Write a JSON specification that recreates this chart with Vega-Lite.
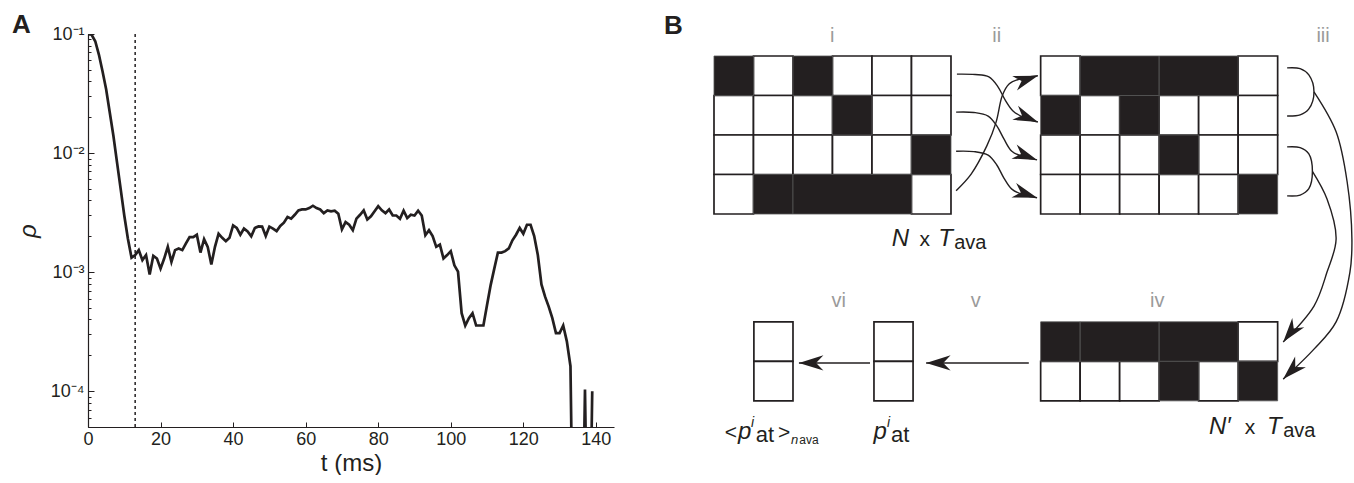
{
  "$schema": "https://vega.github.io/schema/vega-lite/v6.json",
  "background": "white",
  "padding": {"left": 12, "top": 12, "right": 0, "bottom": 0},
  "spacing": 46,
  "config": {
    "view": {"stroke": null},
    "font": "Liberation Sans",
    "axis": {"grid": false, "domainColor": "#231f20", "tickColor": "#231f20", "labelColor": "#231f20", "titleColor": "#231f20", "labelFont": "Liberation Sans", "titleFont": "Liberation Sans", "titleFontWeight": "normal"}
  },
  "datasets": {
    "rho": [
      {"t":0,"p":0.1},{"t":1,"p":0.0985},{"t":2,"p":0.0869},{"t":3,"p":0.0672},{"t":4,"p":0.0487},{"t":5,"p":0.0343},{"t":6,"p":0.0219},{"t":7,"p":0.01396},{"t":8,"p":0.00836},{"t":9,"p":0.005},
      {"t":10,"p":0.00299},{"t":11,"p":0.00191},{"t":12,"p":0.00132},{"t":13,"p":0.00139},{"t":14,"p":0.00153},{"t":15,"p":0.00126},{"t":16,"p":0.00139},{"t":17,"p":0.000957},{"t":18,"p":0.00137},{"t":19,"p":0.0013},
      {"t":20,"p":0.00107},{"t":21,"p":0.0013},{"t":22,"p":0.00163},{"t":23,"p":0.00122},{"t":24,"p":0.00153},{"t":25,"p":0.00158},{"t":26,"p":0.00153},{"t":27,"p":0.00174},{"t":28,"p":0.00197},{"t":29,"p":0.00197},
      {"t":30,"p":0.00206},{"t":31,"p":0.00146},{"t":32,"p":0.00189},{"t":33,"p":0.00163},{"t":34,"p":0.00116},{"t":35,"p":0.00163},{"t":36,"p":0.0021},{"t":37,"p":0.00194},{"t":38,"p":0.00182},{"t":39,"p":0.00194},
      {"t":40,"p":0.00247},{"t":41,"p":0.00235},{"t":42,"p":0.00206},{"t":43,"p":0.00232},{"t":44,"p":0.0022},{"t":45,"p":0.002},{"t":46,"p":0.00235},{"t":47,"p":0.00242},{"t":48,"p":0.00241},{"t":49,"p":0.00201},
      {"t":50,"p":0.00241},{"t":51,"p":0.00232},{"t":52,"p":0.00221},{"t":53,"p":0.00244},{"t":54,"p":0.0026},{"t":55,"p":0.0029},{"t":56,"p":0.00281},{"t":57,"p":0.00303},{"t":58,"p":0.0033},{"t":59,"p":0.00336},
      {"t":60,"p":0.00336},{"t":61,"p":0.00345},{"t":62,"p":0.00361},{"t":63,"p":0.00345},{"t":64,"p":0.00336},{"t":65,"p":0.00313},{"t":66,"p":0.0033},{"t":67,"p":0.00324},{"t":68,"p":0.00328},{"t":69,"p":0.00309},
      {"t":70,"p":0.00229},{"t":71,"p":0.00263},{"t":72,"p":0.0025},{"t":73,"p":0.00225},{"t":74,"p":0.00281},{"t":75,"p":0.00303},{"t":76,"p":0.0033},{"t":77,"p":0.00277},{"t":78,"p":0.00294},{"t":79,"p":0.00324},
      {"t":80,"p":0.00358},{"t":81,"p":0.0033},{"t":82,"p":0.00313},{"t":83,"p":0.00336},{"t":84,"p":0.00299},{"t":85,"p":0.00299},{"t":86,"p":0.00281},{"t":87,"p":0.00328},{"t":88,"p":0.00284},{"t":89,"p":0.00303},
      {"t":90,"p":0.00299},{"t":91,"p":0.00328},{"t":92,"p":0.00299},{"t":93,"p":0.00204},{"t":94,"p":0.00225},{"t":95,"p":0.00201},{"t":96,"p":0.00163},{"t":97,"p":0.0017},{"t":98,"p":0.0013},{"t":99,"p":0.00139},
      {"t":100,"p":0.0015},{"t":101,"p":0.00114},{"t":102,"p":0.00101},{"t":103,"p":0.000452},{"t":104,"p":0.000356},{"t":105,"p":0.00041},{"t":106,"p":0.000452},{"t":107,"p":0.000356},{"t":108,"p":0.000356},{"t":109,"p":0.000356},
      {"t":110,"p":0.00053},{"t":111,"p":0.000778},{"t":112,"p":0.00107},{"t":113,"p":0.00146},{"t":114,"p":0.00146},{"t":115,"p":0.0015},{"t":116,"p":0.00158},{"t":117,"p":0.00185},{"t":118,"p":0.00206},{"t":119,"p":0.00235},
      {"t":120,"p":0.0021},{"t":121,"p":0.0025},{"t":122,"p":0.0025},{"t":123,"p":0.00201},{"t":124,"p":0.00139},{"t":125,"p":0.000789},{"t":126,"p":0.000622},{"t":127,"p":0.000513},{"t":128,"p":0.00041},{"t":129,"p":0.000307},
      {"t":130,"p":0.000307},{"t":131,"p":0.000356},{"t":132,"p":0.000262},{"t":133,"p":0.000162},{"t":134,"p":0.000001},{"t":135,"p":0.000001},{"t":136,"p":0.000001},{"t":137,"p":0.000103},{"t":138,"p":0.000001},{"t":139,"p":0.0001}
    ],
    "cells": [
      {"x":0,"x2":1,"y":0,"y2":1,"on":1},{"x":1,"x2":2,"y":0,"y2":1,"on":0},{"x":2,"x2":3,"y":0,"y2":1,"on":1},{"x":3,"x2":4,"y":0,"y2":1,"on":0},{"x":4,"x2":5,"y":0,"y2":1,"on":0},{"x":5,"x2":6,"y":0,"y2":1,"on":0},
      {"x":0,"x2":1,"y":1,"y2":2,"on":0},{"x":1,"x2":2,"y":1,"y2":2,"on":0},{"x":2,"x2":3,"y":1,"y2":2,"on":0},{"x":3,"x2":4,"y":1,"y2":2,"on":1},{"x":4,"x2":5,"y":1,"y2":2,"on":0},{"x":5,"x2":6,"y":1,"y2":2,"on":0},
      {"x":0,"x2":1,"y":2,"y2":3,"on":0},{"x":1,"x2":2,"y":2,"y2":3,"on":0},{"x":2,"x2":3,"y":2,"y2":3,"on":0},{"x":3,"x2":4,"y":2,"y2":3,"on":0},{"x":4,"x2":5,"y":2,"y2":3,"on":0},{"x":5,"x2":6,"y":2,"y2":3,"on":1},
      {"x":0,"x2":1,"y":3,"y2":4,"on":0},{"x":1,"x2":2,"y":3,"y2":4,"on":1},{"x":2,"x2":5,"y":3,"y2":4,"on":1},{"x":5,"x2":6,"y":3,"y2":4,"on":0},
      {"x":8.27,"x2":9.27,"y":0,"y2":1,"on":0},{"x":9.27,"x2":11.27,"y":0,"y2":1,"on":1},{"x":11.27,"x2":13.27,"y":0,"y2":1,"on":1},{"x":13.27,"x2":14.27,"y":0,"y2":1,"on":0},
      {"x":8.27,"x2":9.27,"y":1,"y2":2,"on":1},{"x":9.27,"x2":10.27,"y":1,"y2":2,"on":0},{"x":10.27,"x2":11.27,"y":1,"y2":2,"on":1},{"x":11.27,"x2":12.27,"y":1,"y2":2,"on":0},{"x":12.27,"x2":13.27,"y":1,"y2":2,"on":0},{"x":13.27,"x2":14.27,"y":1,"y2":2,"on":0},
      {"x":8.27,"x2":9.27,"y":2,"y2":3,"on":0},{"x":9.27,"x2":10.27,"y":2,"y2":3,"on":0},{"x":10.27,"x2":11.27,"y":2,"y2":3,"on":0},{"x":11.27,"x2":12.27,"y":2,"y2":3,"on":1},{"x":12.27,"x2":13.27,"y":2,"y2":3,"on":0},{"x":13.27,"x2":14.27,"y":2,"y2":3,"on":0},
      {"x":8.27,"x2":9.27,"y":3,"y2":4,"on":0},{"x":9.27,"x2":10.27,"y":3,"y2":4,"on":0},{"x":10.27,"x2":11.27,"y":3,"y2":4,"on":0},{"x":11.27,"x2":12.27,"y":3,"y2":4,"on":0},{"x":12.27,"x2":13.27,"y":3,"y2":4,"on":0},{"x":13.27,"x2":14.27,"y":3,"y2":4,"on":1},
      {"x":8.27,"x2":9.27,"y":6.73,"y2":7.73,"on":1},{"x":9.27,"x2":11.27,"y":6.73,"y2":7.73,"on":1},{"x":11.27,"x2":13.27,"y":6.73,"y2":7.73,"on":1},{"x":13.27,"x2":14.27,"y":6.73,"y2":7.73,"on":0},
      {"x":8.27,"x2":9.27,"y":7.73,"y2":8.73,"on":0},{"x":9.27,"x2":10.27,"y":7.73,"y2":8.73,"on":0},{"x":10.27,"x2":11.27,"y":7.73,"y2":8.73,"on":0},{"x":11.27,"x2":12.27,"y":7.73,"y2":8.73,"on":1},{"x":12.27,"x2":13.27,"y":7.73,"y2":8.73,"on":0},{"x":13.27,"x2":14.27,"y":7.73,"y2":8.73,"on":1},
      {"x":1.01,"x2":2.0,"y":6.73,"y2":7.73,"on":0},{"x":1.01,"x2":2.0,"y":7.73,"y2":8.73,"on":0},
      {"x":4.05,"x2":5.04,"y":6.73,"y2":7.73,"on":0},{"x":4.05,"x2":5.04,"y":7.73,"y2":8.73,"on":0}
    ],
    "curves": [
      {"id":"a1","seq":0,"x":6.15,"y":0.46},{"id":"a1","seq":1,"x":6.61,"y":0.47},{"id":"a1","seq":2,"x":6.96,"y":0.53},{"id":"a1","seq":3,"x":7.19,"y":0.78},{"id":"a1","seq":4,"x":7.37,"y":1.11},{"id":"a1","seq":5,"x":7.57,"y":1.39},{"id":"a1","seq":6,"x":7.87,"y":1.57},{"id":"a1","seq":7,"x":8.2,"y":1.67},
      {"id":"a2","seq":0,"x":6.13,"y":1.42},{"id":"a2","seq":1,"x":6.58,"y":1.43},{"id":"a2","seq":2,"x":6.94,"y":1.52},{"id":"a2","seq":3,"x":7.16,"y":1.77},{"id":"a2","seq":4,"x":7.34,"y":2.1},{"id":"a2","seq":5,"x":7.54,"y":2.41},{"id":"a2","seq":6,"x":7.85,"y":2.56},{"id":"a2","seq":7,"x":8.18,"y":2.63},
      {"id":"a3","seq":0,"x":6.13,"y":2.41},{"id":"a3","seq":1,"x":6.58,"y":2.42},{"id":"a3","seq":2,"x":6.94,"y":2.51},{"id":"a3","seq":3,"x":7.16,"y":2.76},{"id":"a3","seq":4,"x":7.34,"y":3.09},{"id":"a3","seq":5,"x":7.54,"y":3.37},{"id":"a3","seq":6,"x":7.85,"y":3.52},{"id":"a3","seq":7,"x":8.18,"y":3.59},
      {"id":"a4","seq":0,"x":6.13,"y":3.41},{"id":"a4","seq":1,"x":6.51,"y":2.99},{"id":"a4","seq":2,"x":6.91,"y":2.27},{"id":"a4","seq":3,"x":7.14,"y":1.68},{"id":"a4","seq":4,"x":7.3,"y":1.0},{"id":"a4","seq":5,"x":7.47,"y":0.71},{"id":"a4","seq":6,"x":7.75,"y":0.58},{"id":"a4","seq":7,"x":8.2,"y":0.5},
      {"id":"b1","seq":0,"x":14.51,"y":0.3},{"id":"b1","seq":1,"x":14.84,"y":0.32},{"id":"b1","seq":2,"x":15.06,"y":0.48},{"id":"b1","seq":3,"x":15.19,"y":0.91},{"id":"b1","seq":4,"x":15.06,"y":1.34},{"id":"b1","seq":5,"x":14.84,"y":1.49},{"id":"b1","seq":6,"x":14.51,"y":1.52},
      {"id":"b2","seq":0,"x":14.51,"y":2.3},{"id":"b2","seq":1,"x":14.84,"y":2.32},{"id":"b2","seq":2,"x":15.06,"y":2.48},{"id":"b2","seq":3,"x":15.15,"y":2.92},{"id":"b2","seq":4,"x":15.06,"y":3.36},{"id":"b2","seq":5,"x":14.84,"y":3.52},{"id":"b2","seq":6,"x":14.51,"y":3.54},
      {"id":"c1","seq":0,"x":15.19,"y":0.91},{"id":"c1","seq":1,"x":15.75,"y":1.92},{"id":"c1","seq":2,"x":16.03,"y":3.19},{"id":"c1","seq":3,"x":16.15,"y":4.63},{"id":"c1","seq":4,"x":16.1,"y":5.47},{"id":"c1","seq":5,"x":15.75,"y":6.73},{"id":"c1","seq":6,"x":15.19,"y":7.42},{"id":"c1","seq":7,"x":14.41,"y":8.18},
      {"id":"c2","seq":0,"x":15.15,"y":2.92},{"id":"c2","seq":1,"x":15.52,"y":3.62},{"id":"c2","seq":2,"x":15.75,"y":4.63},{"id":"c2","seq":3,"x":15.52,"y":5.47},{"id":"c2","seq":4,"x":15.19,"y":6.33},{"id":"c2","seq":5,"x":14.41,"y":7.24},
      {"id":"s1","seq":0,"x":7.97,"y":7.77},{"id":"s1","seq":1,"x":5.37,"y":7.77},
      {"id":"s2","seq":0,"x":3.95,"y":7.77},{"id":"s2","seq":1,"x":2.15,"y":7.77}
    ],
    "heads": [
      {"x":8.2,"y":1.67,"dir":22},{"x":8.18,"y":2.63,"dir":20},{"x":8.18,"y":3.59,"dir":18},{"x":8.2,"y":0.5,"dir":-18},
      {"x":14.41,"y":8.18,"dir":135},{"x":14.41,"y":7.24,"dir":128},{"x":5.37,"y":7.77,"dir":180},{"x":2.15,"y":7.77,"dir":180}
    ],
    "numerals": [
      {"x":2.99,"y":-0.35,"label":"i"},{"x":7.16,"y":-0.35,"label":"ii"},{"x":15.42,"y":-0.35,"label":"iii"},
      {"x":11.22,"y":6.35,"label":"iv"},{"x":6.63,"y":6.35,"label":"v"},{"x":3.16,"y":6.35,"label":"vi"}
    ],
    "italicBig": [
      {"x":4.5,"y":4.81,"label":"N"},{"x":5.68,"y":4.81,"label":"T"},
      {"x":12.53,"y":9.57,"label":"N′"},{"x":14.0,"y":9.57,"label":"T"},
      {"x":0.61,"y":9.7,"label":"p"},{"x":4.04,"y":9.7,"label":"p"}
    ],
    "plainText": [
      {"x":5.2,"y":4.81,"label":"x"},{"x":13.44,"y":9.57,"label":"x"},
      {"x":0.27,"y":9.7,"label":"<"},{"x":1.62,"y":9.7,"label":">"}
    ],
    "subText": [
      {"x":6.08,"y":4.89,"label":"ava"},{"x":14.41,"y":9.65,"label":"ava"}
    ],
    "atText": [
      {"x":1.06,"y":9.77,"label":"at"},{"x":4.48,"y":9.77,"label":"at"}
    ],
    "supText": [
      {"x":0.94,"y":9.39,"label":"i"},{"x":4.38,"y":9.39,"label":"i"}
    ],
    "tinyItalic": [{"x":1.95,"y":9.82,"label":"n"}],
    "tinyText": [{"x":2.16,"y":9.82,"label":"ava"}],
    "marker": [{"t":13}]
  },
  "hconcat": [
    {
      "width": 526,
      "height": 393,
      "title": {"text": "A", "anchor": "start", "frame": "group", "dx": -76, "dy": 34, "offset": 0, "baseline": "alphabetic", "fontSize": 26, "fontWeight": "bold", "font": "Liberation Sans", "color": "#231f20"},
      "resolve": {"axis": {"y": "independent"}},
      "layer": [
        {
          "data": {"name": "rho"},
          "mark": {"type": "line", "clip": true, "color": "#231f20", "strokeWidth": 2.7},
          "encoding": {
            "x": {"field": "t", "type": "quantitative", "scale": {"domain": [0, 145], "nice": false, "zero": false},
                  "axis": {"values": [0,20,40,60,80,100,120,140], "tickSize": -5, "labelPadding": 8, "labelFontSize": 18, "labelFlush": false, "title": "t (ms)", "titleFontSize": 24, "titlePadding": 3, "domainWidth": 1.2}},
            "y": {"field": "p", "type": "quantitative", "scale": {"type": "log", "domain": [0.00005, 0.1], "nice": false},
                  "axis": {"orient": "left", "values": [0.0001, 0.001, 0.01, 0.1], "labelExpr": "datum.value > 0.05 ? '10⁻¹' : datum.value > 0.005 ? '10⁻²' : datum.value > 0.0005 ? '10⁻³' : '10⁻⁴'", "tickSize": -6, "labelPadding": 10, "labelFontSize": 18, "title": "ρ", "titleFontStyle": "italic", "titleFontSize": 24, "titlePadding": 10, "domainWidth": 1.2}}
          }
        },
        {
          "data": {"name": "rho"},
          "mark": {"type": "point", "opacity": 0, "clip": true},
          "encoding": {
            "x": {"field": "t", "type": "quantitative"},
            "y": {"field": "p", "type": "quantitative",
                  "axis": {"orient": "left", "values": [0.00005,0.00006,0.00007,0.00008,0.00009,0.0002,0.0003,0.0004,0.0005,0.0006,0.0007,0.0008,0.0009,0.002,0.003,0.004,0.005,0.006,0.007,0.008,0.009,0.02,0.03,0.04,0.05,0.06,0.07,0.08,0.09], "labels": false, "domain": false, "tickSize": -3, "title": null}}
          }
        },
        {
          "data": {"name": "marker"},
          "mark": {"type": "rule", "strokeDash": [3, 3], "strokeWidth": 1.5, "color": "#231f20"},
          "encoding": {"x": {"field": "t", "type": "quantitative"}}
        }
      ]
    },
    {
      "width": 694,
      "height": 393,
      "title": {"text": "B", "anchor": "start", "frame": "group", "dx": 4, "dy": 34, "offset": 0, "baseline": "alphabetic", "fontSize": 26, "fontWeight": "bold", "font": "Liberation Sans", "color": "#231f20"},
      "encoding": {
        "x": {"field": "x", "type": "quantitative", "scale": {"domain": [-1.367, 16.203], "nice": false, "zero": false}, "axis": null},
        "y": {"field": "y", "type": "quantitative", "scale": {"domain": [-0.557, 9.392], "nice": false, "zero": false, "reverse": true}, "axis": null}
      },
      "layer": [
        {
          "data": {"name": "cells"},
          "transform": [{"filter": "datum.on == 0"}],
          "mark": {"type": "rect", "fill": "#ffffff", "stroke": "#231f20", "strokeWidth": 1.7},
          "encoding": {"x2": {"field": "x2"}, "y2": {"field": "y2"}}
        },
        {
          "data": {"name": "cells"},
          "transform": [{"filter": "datum.on == 1"}],
          "mark": {"type": "rect", "fill": "#231f20", "stroke": "#555555", "strokeWidth": 0.8},
          "encoding": {"x2": {"field": "x2"}, "y2": {"field": "y2"}}
        },
        {
          "data": {"name": "curves"},
          "mark": {"type": "line", "interpolate": "catmull-rom", "color": "#231f20", "strokeWidth": 1.4},
          "encoding": {"detail": {"field": "id"}, "order": {"field": "seq", "type": "quantitative"}}
        },
        {
          "data": {"name": "heads"},
          "mark": {"type": "point", "shape": "M0,0 L-2,-0.62 L-1.4,0 L-2,0.62 Z", "filled": true, "color": "#231f20", "opacity": 1, "size": 600, "strokeWidth": 0},
          "encoding": {"angle": {"field": "dir", "type": "quantitative", "scale": null}}
        },
        {
          "data": {"name": "numerals"},
          "mark": {"type": "text", "align": "center", "baseline": "alphabetic", "fontSize": 20, "color": "#9a9a9a", "font": "Liberation Sans Narrow, Liberation Sans"},
          "encoding": {"text": {"field": "label"}}
        },
        {
          "data": {"name": "italicBig"},
          "mark": {"type": "text", "align": "left", "baseline": "alphabetic", "fontSize": 24, "fontStyle": "italic", "color": "#231f20"},
          "encoding": {"text": {"field": "label"}}
        },
        {
          "data": {"name": "plainText"},
          "mark": {"type": "text", "align": "left", "baseline": "alphabetic", "fontSize": 21, "color": "#231f20"},
          "encoding": {"text": {"field": "label"}}
        },
        {
          "data": {"name": "subText"},
          "mark": {"type": "text", "align": "left", "baseline": "alphabetic", "fontSize": 20, "color": "#231f20"},
          "encoding": {"text": {"field": "label"}}
        },
        {
          "data": {"name": "atText"},
          "mark": {"type": "text", "align": "left", "baseline": "alphabetic", "fontSize": 22, "color": "#231f20"},
          "encoding": {"text": {"field": "label"}}
        },
        {
          "data": {"name": "supText"},
          "mark": {"type": "text", "align": "left", "baseline": "alphabetic", "fontSize": 14, "fontStyle": "italic", "color": "#231f20"},
          "encoding": {"text": {"field": "label"}}
        },
        {
          "data": {"name": "tinyItalic"},
          "mark": {"type": "text", "align": "left", "baseline": "alphabetic", "fontSize": 13, "fontStyle": "italic", "color": "#231f20"},
          "encoding": {"text": {"field": "label"}}
        },
        {
          "data": {"name": "tinyText"},
          "mark": {"type": "text", "align": "left", "baseline": "alphabetic", "fontSize": 12, "color": "#231f20"},
          "encoding": {"text": {"field": "label"}}
        }
      ]
    }
  ]
}
